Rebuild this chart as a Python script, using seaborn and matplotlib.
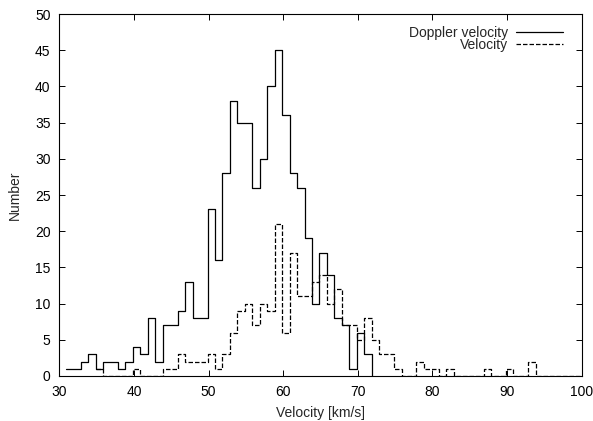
import numpy as np
import matplotlib.pyplot as plt
import seaborn as sns

# counts per 1 km/s bin (steps start at the first bin edge)
bin_width = 1.0
doppler_start = 30.85
doppler_counts = [1, 1, 2, 3, 1, 2, 2, 1, 2, 4, 3, 8, 2, 7, 7, 9, 13, 8, 8, 23,
                  16, 28, 38, 35, 35, 26, 30, 40, 45, 36, 28, 26, 19, 10, 17, 14,
                  8, 7, 1, 6, 3, 0]
velocity_start = 34.85
velocity_counts = [1, 0, 0, 0, 0, 1, 0, 0, 0, 1, 1, 3, 2, 2, 2, 3, 1, 3, 6, 9,
                   10, 7, 10, 9, 21, 6, 17, 11, 11, 13, 14, 10, 12, 7, 7, 5, 8, 5,
                   3, 3, 1, 0, 0, 2, 1, 1, 0, 1, 0, 0, 0, 0, 1, 0, 0, 1, 0, 0,
                   2, 0, 0, 0, 0, 0, 0, 0, 0]

x_ticks = [30, 40, 50, 60, 70, 80, 90, 100]
y_ticks = [0, 5, 10, 15, 20, 25, 30, 35, 40, 45, 50]

doppler_x = doppler_start + np.arange(len(doppler_counts)) * bin_width
velocity_x = velocity_start + np.arange(len(velocity_counts)) * bin_width

sns.set_style('ticks')
plt.rcParams['font.family'] = ['Liberation Sans', 'DejaVu Sans']

fig = plt.figure(figsize=(5.93, 4.21), dpi=100)
ax = fig.add_axes([0.1003, 0.1069, 0.8806, 0.8598])

sns.lineplot(x=doppler_x, y=doppler_counts, drawstyle='steps-post',
             color='black', lw=0.9, ax=ax, label='Doppler velocity')
sns.lineplot(x=velocity_x, y=velocity_counts, drawstyle='steps-post',
             color='black', lw=0.9, linestyle=(0, (3.6, 1.6)), ax=ax,
             label='Velocity')

ax.set_xlim(30, 100)
ax.set_ylim(0, 50)
ax.set_xticks(x_ticks)
ax.set_yticks(y_ticks)
ax.tick_params(direction='in', top=True, right=True, length=4.3, width=0.7,
               labelsize=10, pad=6.5, colors='black')
for s in ax.spines.values():
    s.set_linewidth(0.8)
    s.set_color('black')

ax.set_xlabel('Velocity [km/s]', fontsize=10, labelpad=5)
ax.set_ylabel('Number', fontsize=10, labelpad=9)

ax.legend(loc='upper right', bbox_to_anchor=(0.965, 0.968), frameon=False,
          markerfirst=False, handlelength=3.4, handletextpad=0.6,
          labelspacing=-0.1, borderpad=0, borderaxespad=0, fontsize=10)

fig.savefig('out.png', dpi=100)
